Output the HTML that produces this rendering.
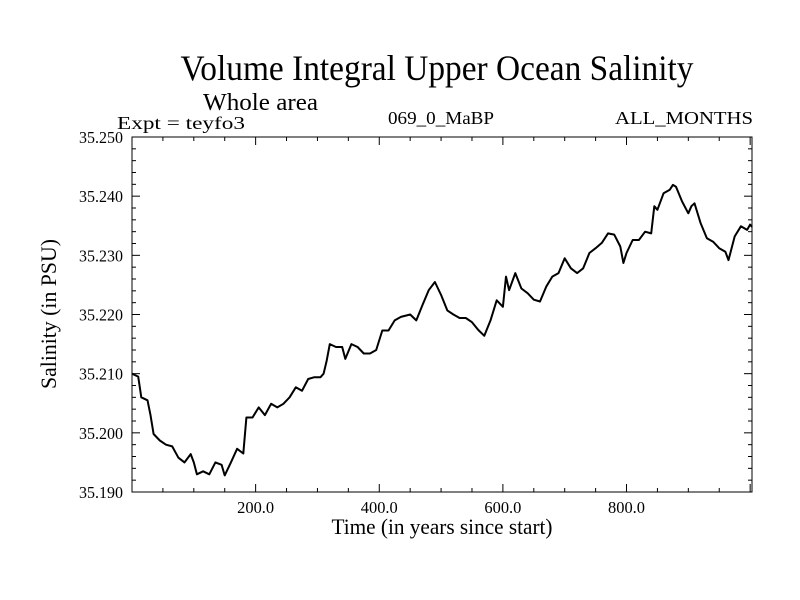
<!DOCTYPE html>
<html><head><meta charset="utf-8"><style>
html,body{margin:0;padding:0;background:#fff;}
svg{display:block;font-family:"Liberation Serif",serif;}
</style></head><body>
<svg id="chart" width="800" height="600" viewBox="0 0 800 600">
<text x="437" y="80" font-size="36" text-anchor="middle" textLength="513" lengthAdjust="spacingAndGlyphs">Volume Integral Upper Ocean Salinity</text>
<text x="203" y="110" font-size="24" textLength="115" lengthAdjust="spacingAndGlyphs">Whole area</text>
<text x="117" y="129" font-size="18" textLength="128" lengthAdjust="spacingAndGlyphs">Expt = teyfo3</text>
<text x="388" y="124" font-size="18" textLength="106" lengthAdjust="spacingAndGlyphs">069_0_MaBP</text>
<text x="615" y="124" font-size="18" textLength="138" lengthAdjust="spacingAndGlyphs">ALL_MONTHS</text>
<text x="442" y="534" font-size="22" text-anchor="middle" textLength="221" lengthAdjust="spacingAndGlyphs">Time (in years since start)</text>
<text transform="translate(56,314) rotate(-90)" font-size="22" text-anchor="middle" textLength="150" lengthAdjust="spacingAndGlyphs">Salinity (in PSU)</text>
<g id="axes"></g>
<g id="plot"></g>
</svg>
<script>
const years=[0,10,15,25,30,35,45,55,65,75,85,95,100,105,115,125,135,145,150,160,170,180,185,195,205,215,225,235,245,255,265,275,285,295,305,310,315,320,330,340,345,355,365,375,385,395,405,415,425,435,450,460,470,480,490,500,510,520,530,540,550,560,570,580,590,600,605,610,620,630,640,650,660,670,680,690,700,710,720,730,740,750,760,770,780,790,795,800,810,820,830,840,845,850,860,870,875,880,890,900,905,910,920,930,940,950,960,965,975,985,995,1000,1003];
const salinity=[35.210,35.2095,35.206,35.2055,35.203,35.1998,35.1987,35.198,35.1977,35.1958,35.195,35.1964,35.195,35.193,35.1935,35.193,35.195,35.1946,35.1928,35.195,35.1973,35.1965,35.2026,35.2026,35.2043,35.203,35.2049,35.2043,35.2049,35.206,35.2077,35.2071,35.2091,35.2094,35.2094,35.210,35.2122,35.215,35.2145,35.2145,35.2125,35.215,35.2145,35.2134,35.2134,35.214,35.2173,35.2173,35.219,35.2196,35.220,35.219,35.2216,35.2241,35.2255,35.2233,35.2207,35.220,35.2194,35.2194,35.2187,35.2174,35.2164,35.219,35.2224,35.2213,35.2264,35.2241,35.227,35.2244,35.2236,35.2225,35.2222,35.2247,35.2264,35.227,35.2295,35.2278,35.227,35.2278,35.2304,35.2312,35.2321,35.2337,35.2335,35.2315,35.2287,35.2304,35.2326,35.2326,35.234,35.2337,35.2383,35.2377,35.2405,35.2411,35.2419,35.2416,35.2391,35.2371,35.2383,35.2388,35.2354,35.2329,35.2323,35.2312,35.2306,35.2292,35.2332,35.2349,35.2343,35.2352,35.2348];
const xTickLabels=["200.0","400.0","600.0","800.0"];
const xTickValues=[200,400,600,800];
const yTickLabels=["35.190","35.200","35.210","35.220","35.230","35.240","35.250"];
const yTickValues=[35.19,35.20,35.21,35.22,35.23,35.24,35.25];
const L=132,R=752,T=137,B=492,X0=0,X1=1003,Y0=35.19,Y1=35.25;
const sx=v=>L+(v-X0)/(X1-X0)*(R-L);
const sy=v=>B-(v-Y0)/(Y1-Y0)*(B-T);
const NS='http://www.w3.org/2000/svg';
const axes=document.getElementById('axes'),plot=document.getElementById('plot');
function mk(tag,attrs,parent){const e=document.createElementNS(NS,tag);for(const k in attrs)e.setAttribute(k,attrs[k]);parent.appendChild(e);return e;}
const frame=mk('rect',{x:L,y:T,width:R-L,height:B-T,fill:'none',stroke:'#000','stroke-width':1},axes);


for(let v=50;v<X1;v+=50){const major=v%200===0;const len=major?8:4;const x=sx(v);
 const t1=mk('line',{x1:x,x2:x,y1:B,y2:B-len,stroke:'#000'},axes);
 
 
 const t2=mk('line',{x1:x,x2:x,y1:T,y2:T+len,stroke:'#000'},axes);
 
 }
for(let i=0;i<=30;i++){const v=Y0+i*0.002;const major=i%5===0;const len=major?8:4;const y=sy(v);
 const t1=mk('line',{x1:L,x2:L+len,y1:y,y2:y,stroke:'#000'},axes);
 
 
 const t2=mk('line',{x1:R,x2:R-len,y1:y,y2:y,stroke:'#000'},axes);
 
 }
xTickLabels.forEach((lab,i)=>{const t=mk('text',{x:sx(xTickValues[i]),y:513,'font-size':17,'text-anchor':'middle',textLength:37,lengthAdjust:'spacingAndGlyphs'},axes);t.textContent=lab;
 
 });
yTickLabels.forEach((lab,i)=>{const t=mk('text',{x:123,y:sy(yTickValues[i])+6,'font-size':17,'text-anchor':'end',textLength:44,lengthAdjust:'spacingAndGlyphs'},axes);t.textContent=lab;
 
 });
const d=years.map((yr,i)=>(i?'L':'M')+sx(yr).toFixed(1)+','+sy(salinity[i]).toFixed(1)).join('');
const p=mk('path',{d:d,fill:'none',stroke:'#000','stroke-width':2,'stroke-linejoin':'round'},plot);


</script>
</body></html>
